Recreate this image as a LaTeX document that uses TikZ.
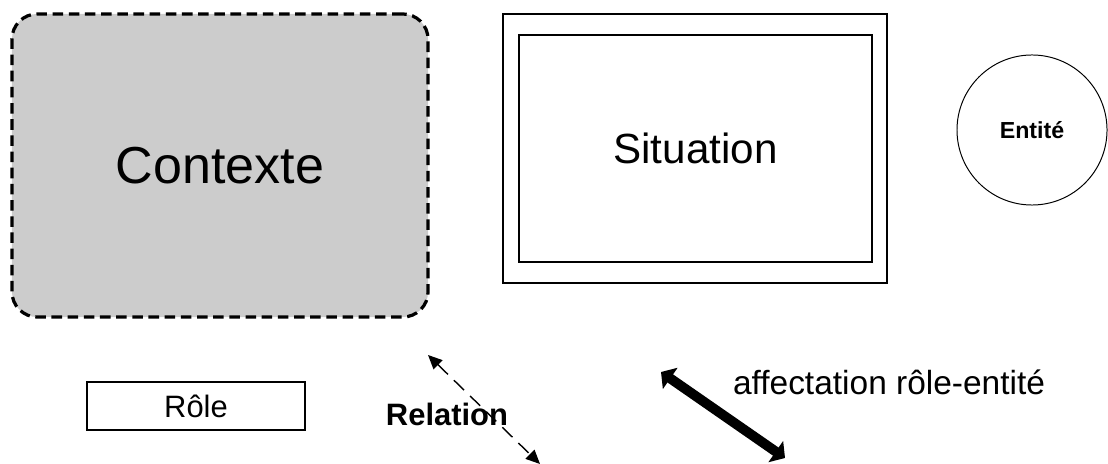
\documentclass[tikz,border=0pt]{standalone}
\usepackage{fontspec}
\setmainfont{Liberation Sans}
\usepackage{xcolor}
\usepackage{tikz}
\usetikzlibrary{arrows.meta,positioning,calc}
\definecolor{lgInk}{HTML}{000000}
\definecolor{lgGray}{HTML}{CCCCCC}
\tikzset{
  % Context box (gray, dashed)
  ctxbox/.style={rectangle,rounded corners=18pt,
    minimum width=10.4cm,minimum height=7.575cm,
    inner sep=0pt,outer sep=0pt,align=center,
    draw=lgInk,fill=lgGray,line width=2.3pt,
    dash pattern=on 7.5pt off 4pt,
    font=\fontsize{37}{40}\selectfont},
  % Situation box (double frame)
  sitbox/.style={rectangle,inner sep=0pt,outer sep=0pt,
    draw=lgInk,line width=1.9pt},
  % Role box
  rolebox/.style={rectangle,inner sep=0pt,outer sep=0pt,
    minimum width=5.45cm,minimum height=1.2cm,
    draw=lgInk,line width=0.9pt,
    font=\fontsize{22}{24}\selectfont},
  % Entity circle
  entcirc/.style={circle,inner sep=0pt,outer sep=0pt,
    minimum size=3.75cm,draw=lgInk,line width=0.7pt,
    font=\fontsize{16.5}{18}\selectfont\bfseries},
  % Arrows
  relarr/.style={{Triangle[length=10pt,width=9pt]}-{Triangle[length=10pt,width=9pt]},
    line width=1pt,dash pattern=on 10pt off 6pt},
  affarr/.style={{Triangle[length=8pt,width=18pt]}-{Triangle[length=8pt,width=18pt]},
    line width=7pt},
  lbl/.style={inner sep=0pt},
}
\begin{document}
\begin{tikzpicture}[x=0.025cm,y=-0.025cm]
  \useasboundingbox (0,0) rectangle (1108,464);
  \node[ctxbox] (ctx) at (220,165.5) {Contexte};
  \node[sitbox,minimum width=9.6cm,minimum height=6.725cm] (sitout) at (695,148.5) {};
  \node[sitbox,minimum width=8.825cm,minimum height=5.675cm,
    font=\fontsize{30}{32}\selectfont] (sit) at (695.5,148.5) {Situation};
  \node[entcirc] (ent) at (1032,130) {Entité};
  \node[rolebox] (role) at (196,406) {Rôle};

  \coordinate (r1) at (428,355);
  \coordinate (r2) at (540,464);
  \draw[relarr] (r1) -- (r2);
  \node[lbl,font=\fontsize{22}{24}\selectfont\bfseries] (rel) at (447,414) {Relation};

  \coordinate (a1) at (661,372);
  \coordinate (a2) at (785,458);
  \draw[affarr] (a1) -- (a2);
  \node[lbl,font=\fontsize{23.8}{26}\selectfont] (aff) at (889,382) {affectation rôle-entité};
\end{tikzpicture}
\end{document}
